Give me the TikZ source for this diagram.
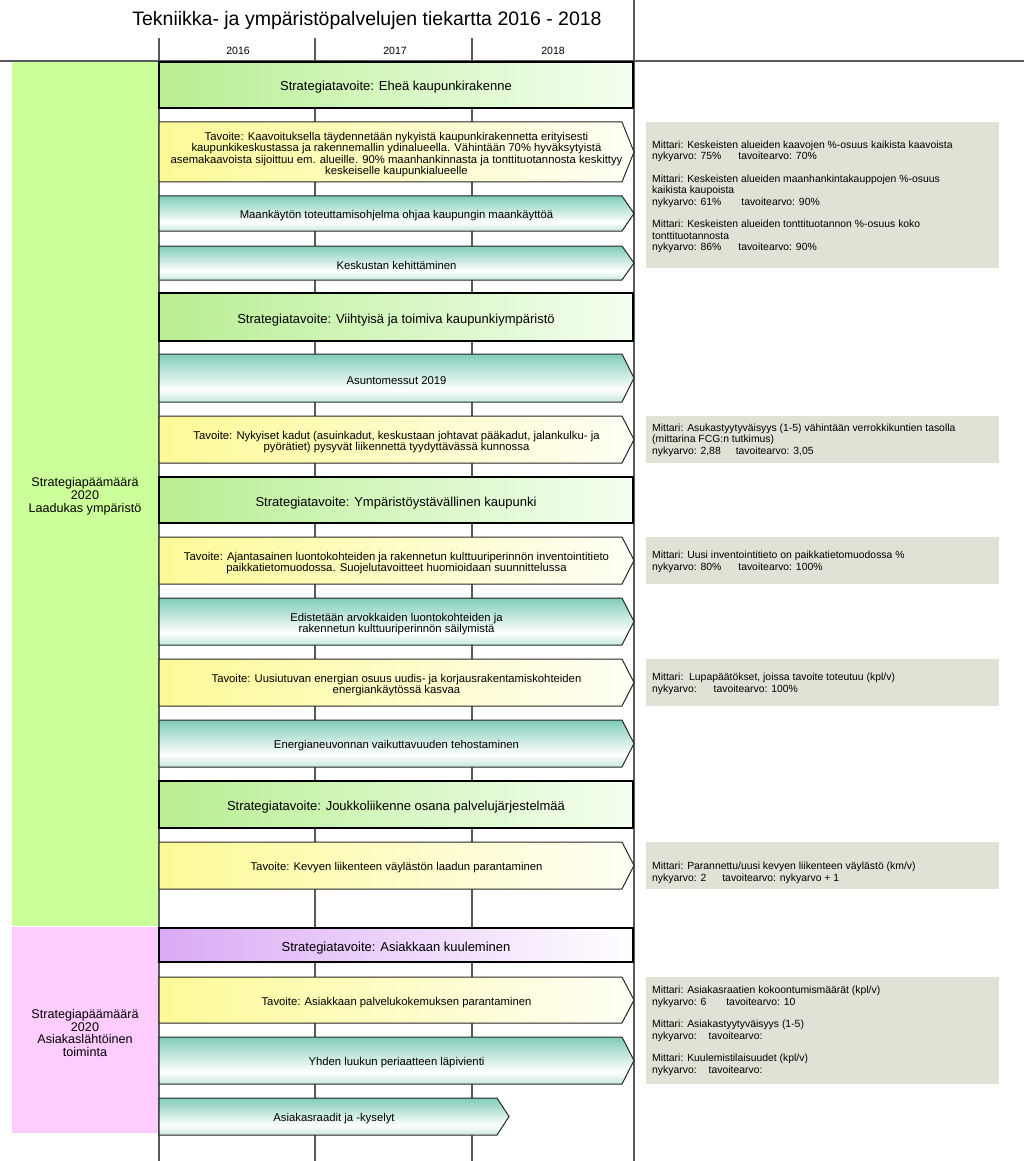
\documentclass[tikz,border=0pt]{standalone}
\usepackage{fontspec}
\setmainfont{Liberation Sans}
\usetikzlibrary{positioning}
\definecolor{goalgreen}{RGB}{204,255,153}
\definecolor{goalpink}{RGB}{255,204,255}
\definecolor{stratgreen}{RGB}{184,238,146}
\definecolor{stratpale}{RGB}{244,255,240}
\definecolor{stratpurple}{RGB}{218,170,246}
\definecolor{tavyellow}{RGB}{252,250,150}
\definecolor{tavpale}{RGB}{255,255,246}
\definecolor{actteal}{RGB}{128,204,184}
\definecolor{actlight}{RGB}{196,232,222}
\definecolor{metricgray}{RGB}{225,225,213}
\definecolor{gridgray}{RGB}{90,90,90}
\pgfdeclareverticalshading{actshade}{100bp}{color(0bp)=(actlight); color(25bp)=(actlight); color(38bp)=(white); color(75bp)=(actteal); color(100bp)=(actteal)}
\tikzset{
  gridline/.style={draw=gridgray, line width=1.2pt},
  yearlbl/.style={font=\fontsize{10.5}{12}\selectfont},
  goalcol/.style={inner sep=0pt, align=center, font=\fontsize{12.6}{12.8}\selectfont},
  stratbox/.style={draw=black, line width=1.8pt, left color=stratgreen, right color=stratpale, minimum width=474pt, inner sep=0pt, text height=15pt, text depth=3pt, font=\fontsize{13}{15}\selectfont},
  goalbar/.style={draw=black!85, line width=1pt, left color=tavyellow, right color=tavpale},
  actbar/.style={draw=black!85, line width=1pt, shading=actshade},
  bartxt/.style={align=center, font=\fontsize{11.3}{11.4}\selectfont, inner sep=0pt},
  metric/.style={fill=metricgray},
  metrictxt/.style={anchor=west, align=left, font=\fontsize{10.4}{11.5}\selectfont, inner sep=0pt},
}
% arrow shaped bar: style, name, top, bottom, tip x, text
\newcommand\roadbar[6]{%
  \path[#1] (159,#3) -- ({#5-12},#3) -- (#5,{(#3+#4)/2}) -- ({#5-12},#4) -- (159,#4) -- cycle;
  \node[bartxt] (#2) at ({(159+#5)/2},{(#3+#4)/2+2.5}) {#6};
}
\begin{document}
\begin{tikzpicture}[x=1pt,y=-1pt]
\useasboundingbox (0,0) rectangle (1024,1161);

% Header
\node[font=\fontsize{19.5}{22}\selectfont] (title) at (367,20) {Tekniikka- ja ympäristöpalvelujen tiekartta 2016 - 2018};
\draw[gridline] (0,61) -- (1024,61);
\draw[gridline] (634,0) -- (634,1161);
\foreach \x in {159,315,472} \draw[gridline] (\x,38) -- (\x,1161);
\foreach \x/\yr in {238/2016,395/2017,553/2018} \node[yearlbl] (y\yr) at (\x,51) {\yr};

% Strategy columns
\path[fill=goalgreen] (12,62) rectangle (158,926);
\node[goalcol] (pm1) at (85,496) {Strategiapäämäärä\\2020\\Laadukas ympäristö};
\path[fill=goalpink] (12,927) rectangle (158,1133);
\node[goalcol] (pm2) at (85,1033) {Strategiapäämäärä\\2020\\Asiakaslähtöinen\\toiminta};

% Bars
\node[stratbox, minimum height=46pt] (st1) at (396,85) {Strategiatavoite: Eheä kaupunkirakenne};
\roadbar{goalbar}{ta1}{122}{182}{634}{Tavoite: Kaavoituksella täydennetään nykyistä kaupunkirakennetta erityisesti\\kaupunkikeskustassa ja rakennemallin ydinalueella. Vähintään 70\% hyväksytyistä\\asemakaavoista sijoittuu em. alueille. 90\% maanhankinnasta ja tonttituotannosta keskittyy\\keskeiselle kaupunkialueelle}
\roadbar{actbar}{ac1}{196}{231}{634}{Maankäytön toteuttamisohjelma ohjaa kaupungin maankäyttöä}
\roadbar{actbar}{ac2}{246}{280}{634}{Keskustan kehittäminen}
\node[stratbox, minimum height=48pt] (st2) at (396,317) {Strategiatavoite: Viihtyisä ja toimiva kaupunkiympäristö};
\roadbar{actbar}{ac3}{354}{402}{634}{Asuntomessut 2019}
\roadbar{goalbar}{ta2}{416}{463}{634}{Tavoite: Nykyiset kadut (asuinkadut, keskustaan johtavat pääkadut, jalankulku- ja\\pyörätiet) pysyvät liikennettä tyydyttävässä kunnossa}
\node[stratbox, minimum height=46pt] (st3) at (396,500) {Strategiatavoite: Ympäristöystävällinen kaupunki};
\roadbar{goalbar}{ta3}{537}{584}{634}{Tavoite: Ajantasainen luontokohteiden ja rakennetun kulttuuriperinnön inventointitieto\\paikkatietomuodossa. Suojelutavoitteet huomioidaan suunnittelussa}
\roadbar{actbar}{ac4}{598}{645}{634}{Edistetään arvokkaiden luontokohteiden ja\\rakennetun kulttuuriperinnön säilymistä}
\roadbar{goalbar}{ta4}{659}{706}{634}{Tavoite: Uusiutuvan energian osuus uudis- ja korjausrakentamiskohteiden\\energiankäytössä kasvaa}
\roadbar{actbar}{ac5}{720}{767}{634}{Energianeuvonnan vaikuttavuuden tehostaminen}
\node[stratbox, minimum height=47pt] (st4) at (396,804.5) {Strategiatavoite: Joukkoliikenne osana palvelujärjestelmää};
\roadbar{goalbar}{ta5}{842}{889}{634}{Tavoite: Kevyen liikenteen väylästön laadun parantaminen}
\node[stratbox, left color=stratpurple, right color=white, minimum height=34pt] (st5) at (396,945) {Strategiatavoite: Asiakkaan kuuleminen};
\roadbar{goalbar}{ta6}{977}{1023}{634}{Tavoite: Asiakkaan palvelukokemuksen parantaminen}
\roadbar{actbar}{ac6}{1037}{1084}{634}{Yhden luukun periaatteen läpivienti}
\roadbar{actbar}{ac7}{1098}{1135}{509}{Asiakasraadit ja -kyselyt}

% Indicators
\path[metric] (646,122) rectangle (999,268);
\node[metrictxt] (mi1) at (652,197) {Mittari: Keskeisten alueiden kaavojen \%-osuus kaikista kaavoista\\
  nykyarvo: 75\%\hspace{17pt}tavoitearvo: 70\%\\[11pt]
  Mittari: Keskeisten alueiden maanhankintakauppojen \%-osuus\\
  kaikista kaupoista\\
  nykyarvo: 61\%\hspace{20pt}tavoitearvo: 90\%\\[11pt]
  Mittari: Keskeisten alueiden tonttituotannon \%-osuus koko\\
  tonttituotannosta\\
  nykyarvo: 86\%\hspace{17pt}tavoitearvo: 90\%};
\path[metric] (646,416) rectangle (999,463);
\node[metrictxt] (mi2) at (652,440) {Mittari: Asukastyytyväisyys (1-5) vähintään verrokkikuntien tasolla\\
  (mittarina FCG:n tutkimus)\\
  nykyarvo: 2,88\hspace{15pt}tavoitearvo: 3,05};
\path[metric] (646,537) rectangle (999,584);
\node[metrictxt] (mi3) at (652,562) {Mittari: Uusi inventointitieto on paikkatietomuodossa \%\\
  nykyarvo: 80\%\hspace{17pt}tavoitearvo: 100\%};
\path[metric] (646,659) rectangle (999,706);
\node[metrictxt] (mi4) at (652,684) {Mittari:\ \ Lupapäätökset, joissa tavoite toteutuu (kpl/v)\\
  nykyarvo:\hspace{17pt}tavoitearvo: 100\%};
\path[metric] (646,842) rectangle (999,889);
\node[metrictxt] (mi5) at (652,873) {Mittari: Parannettu/uusi kevyen liikenteen väylästö (km/v)\\
  nykyarvo: 2\hspace{16pt}tavoitearvo: nykyarvo + 1};
\path[metric] (646,977) rectangle (999,1084);
\node[metrictxt] (mi6) at (652,1031) {Mittari: Asiakasraatien kokoontumismäärät (kpl/v)\\
  nykyarvo: 6\hspace{20pt}tavoitearvo: 10\\[11pt]
  Mittari: Asiakastyytyväisyys (1-5)\\
  nykyarvo:\hspace{12pt}tavoitearvo:\\[11pt]
  Mittari: Kuulemistilaisuudet (kpl/v)\\
  nykyarvo:\hspace{12pt}tavoitearvo:};

\end{tikzpicture}
\end{document}
